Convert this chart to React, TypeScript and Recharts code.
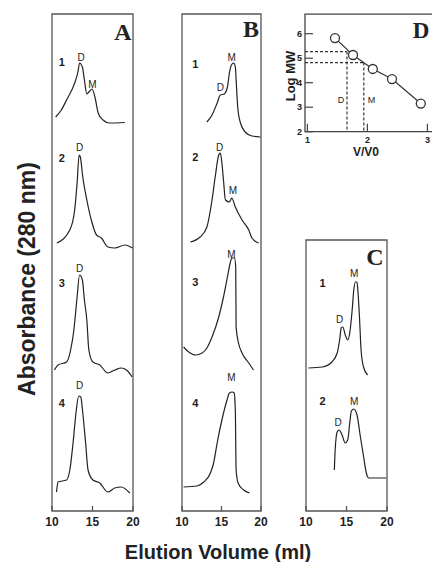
import type { ReactNode } from "react"
import { Line, LineChart, ReferenceArea, ReferenceDot, ReferenceLine, XAxis, YAxis } from "recharts"

type Pt = [number, number]
type Tag = { text: string; x: number; h: number }

const SANS = "'Liberation Sans', Arial, sans-serif"
const SERIF = "'Liberation Serif', 'Times New Roman', serif"
const INK = "#222"

const volumeTicks = [10, 15, 20]

// elution volume (ml), absorbance above each trace's baseline (arbitrary units)
const traceA1: Pt[] = [
  [10.45, 0.6], [11.15, 1.3], [11.8, 2.3], [12.8, 4.0], [13.2, 5.1], [13.4, 6.0], [13.75, 5.6], [14.0, 4.3],
  [14.3, 2.9], [14.55, 3.1], [14.95, 3.4], [15.3, 2.6], [15.7, 1.0], [16.3, 0.3], [17.1, 0], [19.0, 0.05],
]
const traceA2: Pt[] = [
  [10.6, 0.5], [12.2, 1.8], [12.8, 3.8], [13.1, 6.5], [13.35, 9.3], [13.5, 9.1], [13.8, 7.1], [14.3, 4.8],
  [14.85, 2.8], [15.5, 1.3], [16.1, 1.0], [16.9, 0.1], [17.75, 0], [19.0, 0.3], [19.95, 0],
]
const traceA3: Pt[] = [
  [10.3, 0.7], [10.75, 1.2], [11.8, 1.5], [12.3, 2.7], [12.7, 4.7], [13.1, 8.0], [13.4, 10.2], [13.75, 9.7],
  [14.0, 7.7], [14.3, 5.7], [14.55, 2.7], [15.05, 1.5], [15.9, 1.2], [16.9, 0.4], [17.75, 0.7], [18.55, 0.9],
  [19.2, 0.7], [19.9, 0],
]
const traceA4: Pt[] = [
  [10.55, 0.1], [10.75, 1.1], [11.8, 1.3], [12.2, 2.3], [12.6, 5.0], [13.0, 8.3], [13.3, 9.7], [13.55, 9.6],
  [13.8, 8.0], [14.15, 5.0], [14.45, 2.3], [15.05, 1.3], [15.9, 1.0], [16.9, 0.1], [17.75, 0.5], [18.55, 0.6],
  [19.6, 0],
]

const traceB1: Pt[] = [
  [13.15, 1.5], [13.8, 2.2], [14.45, 3.4], [14.85, 4.2], [15.35, 4.3], [15.75, 5.0], [16.0, 6.4], [16.25, 7.2],
  [16.55, 7.4], [16.75, 7.0], [16.9, 5.0], [17.05, 3.0], [17.4, 1.4], [18.0, 0.5], [18.85, 0.1], [19.9, 0],
]
const traceB2: Pt[] = [
  [11.05, 0.1], [12.3, 0.6], [13.15, 1.6], [13.8, 4.3], [14.2, 6.6], [14.65, 8.8], [14.85, 9.0], [15.05, 8.0],
  [15.25, 6.3], [15.5, 4.3], [16.0, 4.1], [16.3, 4.5], [16.75, 3.6], [17.6, 2.3], [18.45, 1.3], [18.85, 0.5],
  [19.7, 0],
]
const traceB3: Pt[] = [
  [10.2, 2.3], [10.85, 1.8], [11.7, 1.5], [12.55, 1.7], [13.15, 2.2], [13.8, 3.3], [14.65, 5.3], [15.25, 7.3],
  [15.75, 9.3], [16.1, 10.7], [16.3, 11.2], [16.65, 11.2], [16.8, 10.3], [16.85, 4.3], [17.15, 2.7],
  [17.6, 1.7], [18.45, 0.7], [19.05, 0],
]
const traceB4: Pt[] = [
  [10.2, 0.6], [11.9, 0.7], [12.75, 1.1], [13.6, 2.0], [14.0, 3.0], [14.45, 5.0], [15.05, 7.3], [15.7, 9.3],
  [16.0, 10.0], [16.35, 10.1], [16.6, 10.0], [16.75, 8.3], [16.85, 2.3], [17.1, 1.0], [17.8, 0.3], [18.55, 0],
]

const traceC1: Pt[] = [
  [10.3, 0.7], [12.0, 0.8], [13.2, 1.3], [13.85, 2.2], [14.15, 3.5], [14.35, 4.7], [14.55, 4.8], [14.85, 4.0],
  [15.15, 3.5], [15.4, 4.2], [15.7, 6.5], [15.9, 8.5], [16.1, 9.3], [16.3, 9.3], [16.4, 8.5], [16.6, 5.8],
  [16.8, 2.5], [17.1, 0.8], [17.6, 0],
]
const traceC2: Pt[] = [
  [13.5, 0.8], [13.6, 2.8], [13.85, 4.6], [14.1, 4.8], [14.45, 4.3], [14.85, 3.5], [15.15, 3.8], [15.4, 5.5],
  [15.6, 6.7], [15.9, 6.9], [16.3, 6.3], [16.7, 4.2], [17.1, 2.2], [17.45, 0.5], [17.75, 0], [19.9, 0],
]

// peak labels: D = dimer, M = monomer (volume, height above baseline)
const tagsA: Tag[][] = [
  [{ text: "D", x: 13.6, h: 6.6 }, { text: "M", x: 15.0, h: 3.9 }],
  [{ text: "D", x: 13.4, h: 10.1 }],
  [{ text: "D", x: 13.4, h: 10.9 }],
  [{ text: "D", x: 13.4, h: 10.8 }],
]
const tagsB: Tag[][] = [
  [{ text: "D", x: 14.85, h: 5.0 }, { text: "M", x: 16.3, h: 8.0 }],
  [{ text: "D", x: 14.75, h: 9.6 }, { text: "M", x: 16.45, h: 5.3 }],
  [{ text: "M", x: 16.25, h: 11.6 }],
  [{ text: "M", x: 16.25, h: 11.6 }],
]
const tagsC: Tag[][] = [
  [{ text: "D", x: 14.15, h: 5.6 }, { text: "M", x: 15.95, h: 10.2 }],
  [{ text: "D", x: 13.95, h: 5.6 }, { text: "M", x: 15.95, h: 7.7 }],
]

// calibration standards for panel D
const standardVV0 = [1.46, 1.76, 2.09, 2.41, 2.89]
const standardLogMW = [5.82, 5.13, 4.56, 4.15, 3.15]
const dimerPoint = { vv0: 1.66, logMW: 5.27 }
const monomerPoint = { vv0: 1.94, logMW: 4.82 }
const logMWTicks = [2, 3, 4, 5, 6]
const vv0Ticks = [1, 2, 3]

const VolumeTick = ({ x, y, payload }: any) => (
  <g>
    <line x1={x} x2={x} y1={y} y2={y - 5} stroke="#555" strokeWidth={1.3} />
    <text x={x} y={y + 15} textAnchor="middle" fontSize={12} fontWeight="bold" fill={INK} fontFamily={SANS}>
      {payload.value}
    </text>
  </g>
)

const textShape = (text: string, size: number, weight: string) => (p: any) => (
  <text x={p.cx} y={p.cy} dy="0.35em" textAnchor="middle" fontSize={size} fontWeight={weight} fill={INK} fontFamily={SANS}>
    {text}
  </text>
)

interface StackProps {
  box: [number, number, number, number]
  traces: Pt[][]
  tags: Tag[][]
  offsets: number[]
  numberX: number
  numberH: number[]
}

function StackPanel({ box, traces, tags, offsets, numberX, numberH }: StackProps) {
  const [l, r, t, b] = box
  const pad = 10
  const yMax = (b - t) / 10

  return (
    <div style={{ position: "absolute", left: l - pad, top: t - pad }}>
      <LineChart width={r - l + pad * 2} height={535 - t + pad} margin={{ top: pad, right: pad, bottom: 0, left: pad }}>
        <XAxis
          type="number"
          dataKey="x"
          domain={[10, 20]}
          ticks={volumeTicks}
          allowDataOverflow
          axisLine={false}
          tickLine={false}
          tickSize={0}
          tickMargin={0}
          height={535 - b}
          tick={<VolumeTick />}
        />
        <YAxis type="number" hide domain={[0, yMax]} allowDataOverflow />
        <ReferenceArea x1={10} x2={20} y1={0} y2={yMax} fill="none" stroke="#555" strokeWidth={1.3} />
        {traces.map((pts, i) => (
          <Line
            key={i}
            data={pts.map(([x, a]) => ({ x, y: a + offsets[i] }))}
            dataKey="y"
            type="monotone"
            stroke={INK}
            strokeWidth={1.2}
            dot={false}
            isAnimationActive={false}
          />
        ))}
        {traces.map((_, i) => (
          <ReferenceDot key={`n${i}`} x={numberX} y={numberH[i] + offsets[i]} r={0} shape={textShape(String(i + 1), 11, "bold")} />
        ))}
        {tags.flatMap((list, i) =>
          list.map((tg) => (
            <ReferenceDot key={`t${i}${tg.text}`} x={tg.x} y={tg.h + offsets[i]} r={0} shape={textShape(tg.text, 10, "normal")} />
          ))
        )}
      </LineChart>
    </div>
  )
}

const LogTickY = ({ x, y, payload }: any) => (
  <g>
    <line x1={x} x2={x + 8} y1={y} y2={y} stroke="#444" strokeWidth={1.2} />
    <text x={x - 3} y={y} dy="0.35em" textAnchor="end" fontSize={9} fontWeight="bold" fill={INK} fontFamily={SANS}>
      {payload.value}
    </text>
  </g>
)

const LogTickX = ({ x, y, payload }: any) => (
  <g>
    <line x1={x} x2={x} y1={y} y2={y - 8} stroke="#444" strokeWidth={1.2} />
    <text x={x} y={y + 8} dy="0.35em" textAnchor="middle" fontSize={9} fontWeight="bold" fill={INK} fontFamily={SANS}>
      {payload.value}
    </text>
  </g>
)

function CalibrationPanel() {
  const data = standardVV0.map((v, i) => ({ x: v, y: standardLogMW[i] }))
  const dash = { stroke: "#333", strokeWidth: 1.2, strokeDasharray: "3 2" }
  return (
    <div style={{ position: "absolute", left: 270, top: 0 }}>
      <LineChart width={180} height={165} margin={{ top: 14.1, right: 13.6, bottom: 0, left: 0 }}>
        <XAxis
          type="number"
          dataKey="x"
          domain={[0.96, 3.15]}
          ticks={vv0Ticks}
          allowDataOverflow
          axisLine={false}
          tickLine={false}
          tickSize={0}
          tickMargin={0}
          height={33.3}
          tick={<LogTickX />}
        />
        <YAxis
          type="number"
          domain={[2, 6.8]}
          ticks={logMWTicks}
          allowDataOverflow
          axisLine={false}
          tickLine={false}
          tickSize={0}
          tickMargin={0}
          width={35}
          tick={<LogTickY />}
        />
        <ReferenceArea x1={0.96} x2={3.15} y1={2} y2={6.8} fill="none" stroke="#444" strokeWidth={1.3} />
        <ReferenceLine segment={[{ x: 0.96, y: dimerPoint.logMW }, { x: dimerPoint.vv0, y: dimerPoint.logMW }]} {...dash} />
        <ReferenceLine segment={[{ x: dimerPoint.vv0, y: dimerPoint.logMW }, { x: dimerPoint.vv0, y: 2 }]} {...dash} />
        <ReferenceLine segment={[{ x: 0.96, y: monomerPoint.logMW }, { x: monomerPoint.vv0, y: monomerPoint.logMW }]} {...dash} />
        <ReferenceLine segment={[{ x: monomerPoint.vv0, y: monomerPoint.logMW }, { x: monomerPoint.vv0, y: 2 }]} {...dash} />
        <ReferenceDot x={1.56} y={3.29} r={0} shape={textShape("D", 9, "normal")} />
        <ReferenceDot x={2.07} y={3.29} r={0} shape={textShape("M", 9, "normal")} />
        <Line
          data={data}
          dataKey="y"
          type="linear"
          stroke="#333"
          strokeWidth={1.2}
          dot={{ r: 4.5, fill: "#fff", stroke: "#333", strokeWidth: 1.3 }}
          isAnimationActive={false}
        />
      </LineChart>
    </div>
  )
}

function Caption({ x, y, size, children, rotate, serif, weight = "bold" }: {
  x: number
  y: number
  size: number
  children: ReactNode
  rotate?: boolean
  serif?: boolean
  weight?: string
}) {
  return (
    <div
      style={{
        position: "absolute",
        left: x,
        top: y,
        transform: `translate(-50%, -50%)${rotate ? " rotate(-90deg)" : ""}`,
        fontSize: size,
        fontWeight: weight,
        fontFamily: serif ? SERIF : SANS,
        lineHeight: 1,
        whiteSpace: "nowrap",
        color: INK,
      }}
    >
      {children}
    </div>
  )
}

export default function App() {
  return (
    <div style={{ position: "fixed", left: 0, top: 0, width: 432, height: 562, overflow: "hidden", background: "#fff" }}>
      <StackPanel
        box={[52.3, 133.3, 14, 511]}
        traces={[traceA1, traceA2, traceA3, traceA4]}
        tags={tagsA}
        offsets={[38.8, 26.3, 13.4, 1.8]}
        numberX={11.2}
        numberH={[6.1, 9.0, 9.4, 9.0]}
      />
      <StackPanel
        box={[181.7, 260.7, 14, 511]}
        traces={[traceB1, traceB2, traceB3, traceB4]}
        tags={tagsB}
        offsets={[37.4, 26.8, 14.1, 1.8]}
        numberX={11.7}
        numberH={[7.3, 8.6, 8.8, 9.0]}
      />
      <StackPanel
        box={[305.7, 386.7, 240, 511]}
        traces={[traceC1, traceC2]}
        tags={tagsC}
        offsets={[13.6, 3.3]}
        numberX={12.05}
        numberH={[9.2, 7.7]}
      />
      <CalibrationPanel />

      <Caption x={123} y={32} size={24} serif>A</Caption>
      <Caption x={251} y={29} size={24} serif>B</Caption>
      <Caption x={375} y={257} size={24} serif>C</Caption>
      <Caption x={421} y={30} size={23} serif>D</Caption>

      <Caption x={290} y={76} size={13} rotate>Log MW</Caption>
      <Caption x={366} y={152} size={12}>V/V0</Caption>
      <Caption x={27} y={279} size={23} rotate>Absorbance (280 nm)</Caption>
      <Caption x={218} y={552} size={20}>Elution Volume (ml)</Caption>
    </div>
  )
}
